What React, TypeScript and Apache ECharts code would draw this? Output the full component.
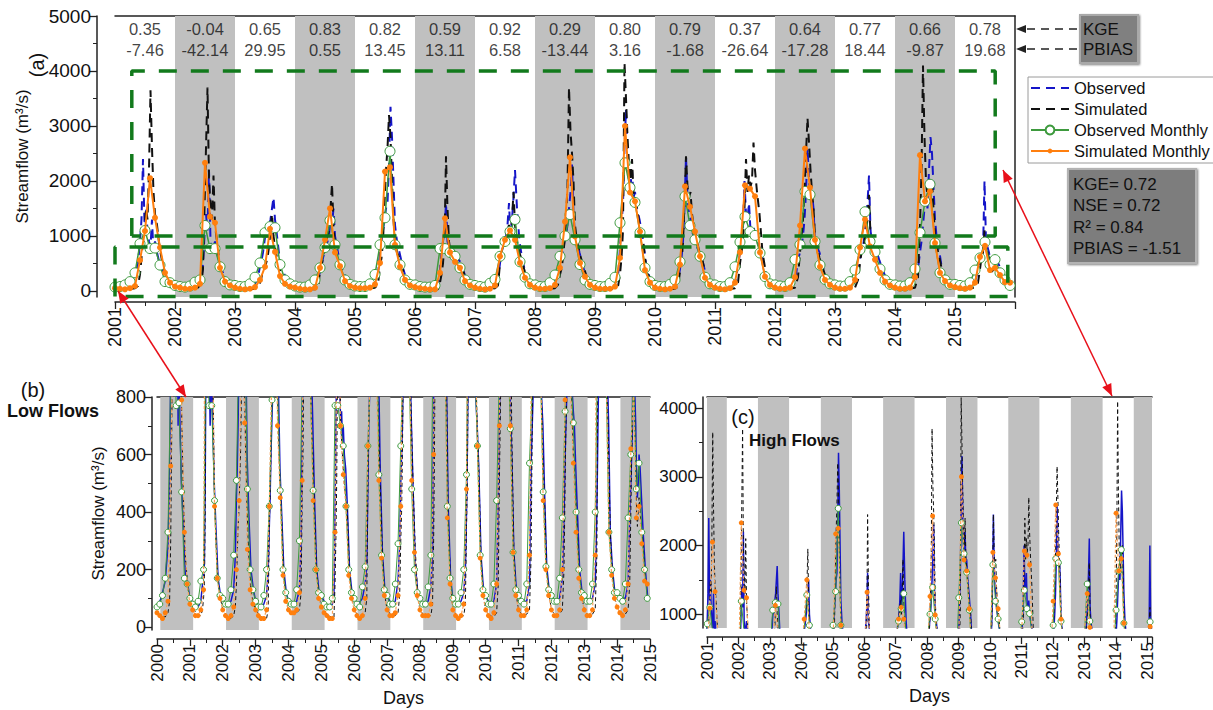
import React, { useEffect, useRef } from "react";
import * as echarts from "echarts";

const FONT = '"Liberation Sans", Arial, Helvetica, sans-serif';

const YEARS = [2001, 2002, 2003, 2004, 2005, 2006, 2007, 2008, 2009, 2010, 2011, 2012, 2013, 2014, 2015];
const KGE = [0.35, -0.04, 0.65, 0.83, 0.82, 0.59, 0.92, 0.29, 0.8, 0.79, 0.37, 0.64, 0.77, 0.66, 0.78];
const PBIAS = [-7.46, -42.14, 29.95, 0.55, 13.45, 13.11, 6.58, -13.44, 3.16, -1.68, -26.64, -17.28, 18.44, -9.87, 19.68];
const STATS = ["KGE= 0.72", "NSE = 0.72", "R² = 0.84", "PBIAS = -1.51"];
const LEGEND_NAMES = ["Observed", "Simulated", "Observed Monthly", "Simulated Monthly"];

// monthly means (m3/s), one row per year, Jan..Dec (plotted at month start)
const OBS_MONTHLY = [
  [70, 80, 110, 170, 330, 860, 1100, 770, 780, 470, 170, 150],
  [100, 80, 70, 90, 160, 200, 1190, 770, 770, 440, 170, 110],
  [100, 80, 80, 130, 250, 510, 1060, 1170, 1150, 480, 200, 130],
  [90, 70, 70, 110, 200, 420, 790, 1280, 840, 475, 200, 120],
  [90, 80, 80, 130, 300, 840, 1330, 2540, 840, 475, 200, 120],
  [110, 80, 70, 70, 100, 770, 770, 700, 630, 420, 200, 120],
  [100, 80, 70, 140, 210, 630, 900, 1080, 1300, 530, 250, 130],
  [110, 80, 80, 150, 290, 630, 1000, 1390, 930, 480, 200, 120],
  [100, 80, 80, 140, 250, 1240, 2330, 1880, 1610, 1060, 420, 170],
  [100, 80, 80, 120, 200, 530, 1720, 1190, 930, 630, 250, 130],
  [110, 80, 80, 150, 440, 890, 1350, 1080, 1010, 690, 260, 130],
  [110, 90, 80, 150, 570, 840, 1810, 1750, 900, 470, 210, 130],
  [110, 90, 90, 170, 380, 750, 1440, 900, 710, 400, 200, 120],
  [110, 90, 90, 150, 400, 1060, 1630, 1940, 870, 330, 200, 120],
  [120, 100, 90, 150, 380, 600, 890, 480, 570, 330, 200, 100],
];
const SIM_MONTHLY = [
  [50, 40, 30, 50, 90, 560, 1090, 2050, 1330, 790, 330, 150],
  [80, 60, 40, 40, 60, 130, 2330, 1350, 1240, 420, 170, 100],
  [60, 40, 30, 40, 70, 200, 440, 1130, 710, 270, 130, 80],
  [60, 40, 30, 30, 60, 420, 930, 1500, 700, 450, 180, 90],
  [60, 50, 50, 60, 120, 510, 2170, 2250, 840, 440, 200, 100],
  [70, 50, 40, 30, 30, 330, 1320, 700, 530, 420, 180, 100],
  [60, 40, 30, 40, 100, 630, 930, 1100, 930, 510, 240, 110],
  [60, 40, 40, 50, 110, 420, 1260, 2430, 990, 510, 260, 110],
  [60, 40, 40, 40, 80, 600, 3000, 1790, 1630, 1080, 380, 150],
  [60, 40, 30, 40, 80, 480, 1900, 1530, 1080, 630, 240, 110],
  [60, 40, 30, 50, 150, 700, 1920, 1860, 1720, 700, 260, 110],
  [60, 40, 40, 60, 250, 1190, 2590, 1880, 930, 440, 200, 110],
  [60, 40, 40, 60, 200, 790, 1300, 810, 570, 330, 170, 100],
  [60, 40, 40, 60, 250, 2470, 1630, 1810, 870, 330, 180, 100],
  [70, 50, 40, 60, 150, 620, 820, 380, 420, 290, 160, 150],
];

// sampled daily flows: month offsets within each year, and one row of values per year
const DAILY_MONTHS = [0, 1.5, 3, 4, 4.6, 5.0, 5.3, 5.6, 5.9, 6.2, 6.5, 6.8, 7.1, 7.4, 7.7, 8.0, 8.4, 8.9, 9.5, 10.3, 11.2];
const OBS_DAILY = [
  [70, 100, 160, 280, 500, 900, 1300, 2400, 1200, 1500, 1100, 900, 800, 1300, 700, 900, 700, 500, 380, 190, 150],
  [100, 80, 70, 90, 150, 180, 220, 500, 1000, 1400, 1100, 2200, 900, 700, 800, 900, 700, 500, 350, 170, 110],
  [100, 80, 90, 130, 250, 450, 550, 700, 900, 1100, 1000, 1200, 1300, 1500, 1700, 1300, 1000, 600, 400, 200, 130],
  [90, 70, 80, 110, 200, 350, 450, 600, 700, 800, 900, 1000, 1300, 1200, 1500, 1000, 800, 550, 400, 200, 120],
  [90, 80, 90, 130, 300, 700, 900, 1100, 1300, 1500, 1600, 2300, 3350, 2800, 2000, 1200, 900, 700, 450, 200, 120],
  [110, 80, 70, 80, 100, 400, 700, 900, 1100, 1600, 900, 800, 700, 750, 650, 700, 600, 550, 420, 200, 120],
  [100, 80, 100, 150, 210, 500, 700, 800, 900, 1000, 1200, 1600, 1000, 1300, 1700, 2200, 1500, 900, 550, 260, 130],
  [110, 80, 90, 160, 290, 500, 600, 700, 900, 1000, 1200, 1500, 1800, 2300, 1400, 1000, 900, 700, 480, 220, 120],
  [100, 80, 90, 140, 250, 800, 1200, 1600, 2600, 3300, 2400, 2000, 1900, 2200, 1700, 1800, 1500, 1300, 1000, 430, 170],
  [100, 80, 90, 120, 200, 400, 600, 900, 1500, 2450, 1700, 1400, 1300, 1100, 1000, 900, 800, 700, 550, 250, 130],
  [110, 80, 90, 150, 440, 700, 900, 1200, 2000, 1400, 1300, 1600, 1100, 1000, 1200, 1000, 900, 800, 600, 260, 130],
  [110, 90, 90, 150, 570, 700, 800, 1000, 1300, 1800, 2600, 2000, 1700, 1800, 1500, 900, 800, 700, 470, 210, 130],
  [110, 90, 100, 170, 380, 600, 700, 800, 1000, 1300, 1600, 2100, 1100, 900, 800, 750, 700, 550, 400, 200, 120],
  [110, 90, 100, 150, 400, 700, 900, 1200, 1500, 1700, 1500, 2200, 2800, 2500, 1900, 1300, 900, 700, 330, 200, 120],
  [120, 100, 100, 150, 380, 500, 600, 700, 2000, 900, 800, 700, 500, 450, 500, 600, 550, 450, 330, 200, 100],
];
const SIM_DAILY = [
  [50, 40, 35, 50, 90, 300, 600, 900, 1100, 1500, 1300, 2200, 3650, 2600, 1800, 1400, 1200, 800, 500, 250, 150],
  [80, 60, 40, 40, 60, 100, 150, 400, 1500, 2600, 3700, 2000, 1600, 1300, 2100, 1200, 900, 500, 300, 160, 100],
  [60, 40, 30, 40, 70, 150, 250, 350, 400, 500, 600, 800, 1100, 1400, 1000, 800, 600, 400, 250, 130, 80],
  [60, 40, 30, 30, 60, 350, 450, 600, 800, 900, 1000, 1100, 1500, 1950, 1200, 800, 650, 500, 380, 180, 90],
  [60, 50, 50, 60, 120, 450, 600, 900, 1600, 2200, 2600, 3200, 2800, 2000, 1300, 900, 700, 600, 400, 200, 100],
  [70, 50, 40, 30, 30, 150, 300, 500, 900, 2450, 1500, 900, 700, 650, 600, 550, 500, 450, 400, 190, 100],
  [60, 40, 35, 50, 100, 500, 700, 800, 900, 1000, 1100, 1200, 1000, 1300, 1800, 1200, 900, 700, 500, 250, 110],
  [60, 40, 40, 50, 110, 300, 400, 600, 900, 1300, 1900, 3700, 2900, 2500, 2000, 1200, 900, 700, 500, 270, 110],
  [60, 40, 40, 40, 80, 300, 600, 1100, 4150, 3500, 2800, 2300, 2000, 2400, 1800, 1700, 1500, 1200, 1000, 380, 150],
  [60, 40, 35, 40, 80, 350, 500, 900, 1600, 2450, 1900, 1700, 1800, 1400, 1200, 1100, 900, 700, 550, 240, 110],
  [60, 40, 35, 50, 150, 500, 700, 900, 1500, 2400, 1800, 2100, 1900, 2000, 2700, 2200, 1800, 1400, 700, 260, 110],
  [60, 40, 45, 60, 250, 700, 1000, 1300, 1800, 2500, 3150, 2700, 2200, 1800, 1500, 1000, 800, 600, 440, 200, 110],
  [60, 40, 45, 60, 200, 500, 700, 800, 900, 1100, 1300, 1750, 1000, 800, 700, 600, 550, 450, 330, 170, 100],
  [60, 40, 45, 60, 250, 1200, 2200, 4100, 2800, 2000, 1700, 1600, 1900, 2000, 1500, 1000, 800, 600, 330, 180, 100],
  [70, 50, 45, 60, 150, 400, 600, 700, 1100, 800, 700, 600, 400, 350, 400, 450, 400, 350, 290, 160, 150],
];

// shaded year bands (in each panel's own axis units)
const BANDS_A = [[2002, 2003], [2004, 2005], [2006, 2007], [2008, 2009], [2010, 2011], [2012, 2013], [2014, 2015]];
const BANDS_B = [[2000.1, 2001.1], [2002.1, 2003.1], [2004.1, 2005.1], [2006.1, 2007.1], [2008.1, 2009.1], [2010.1, 2011.1], [2012.1, 2013.1], [2014.1, 2015]];
const BANDS_C = [[2001, 2001.63], [2002.62, 2003.61], [2004.62, 2005.61], [2006.6, 2007.6], [2008.6, 2009.6], [2010.58, 2011.57], [2012.57, 2013.58], [2014.57, 2015.15]];
// zoom boxes in panel (a): high-flow window and low-flow window
const BOX_HIGH = { x0: 2001.28, x1: 2015.67, y0: 1000, y1: 4000 };
const BOX_LOW = { x0: 2001, x1: 2015.88, y0: -100, y1: 800 };
// axis label shift of the zoom panels relative to panel (a)
const SHIFT_B = -1;
const SHIFT_C = -0.41;

const C_OBS = "#1515c8";
const C_SIM = "#111111";
const C_OBSM = "#3d9a3d";
const C_SIMM = "#ff7f0e";
const C_GREEN = "#127a1c";
const C_BAND = "#c0c0c0";
const C_RED = "#e8101a";

function monthlyPoints(rows: number[][], shift: number) {
  return rows.flatMap((row, i) => row.map((v, m) => [YEARS[i] + m / 12 + shift, v]));
}
function dailyPoints(rows: number[][], shift: number) {
  return rows.flatMap((row, i) => row.map((v, k) => [YEARS[i] + DAILY_MONTHS[k] / 12 + shift, v]));
}
function boxPoints(b: { x0: number; x1: number; y0: number; y1: number }) {
  return [[b.x0, b.y0], [b.x0, b.y1], [b.x1, b.y1], [b.x1, b.y0], [b.x0, b.y0]];
}
function range(a: number, b: number, step: number) {
  const out: number[] = [];
  for (let v = a; v <= b + 1e-9; v += step) out.push(v);
  return out;
}

function arrowHead(tx: number, ty: number, fx: number, fy: number, color: string, len = 11, half = 4.5) {
  const dx = tx - fx, dy = ty - fy;
  const d = Math.hypot(dx, dy);
  const ux = dx / d, uy = dy / d;
  const bx = tx - ux * len, by = ty - uy * len;
  return {
    type: "polygon",
    z: 100,
    shape: { points: [[tx, ty], [bx - uy * half, by + ux * half], [bx + uy * half, by - ux * half]] },
    style: { fill: color },
  };
}

function bandSeries(xi: number, yi: number, bands: number[][], y0: number, y1: number) {
  return {
    type: "line",
    xAxisIndex: xi,
    yAxisIndex: yi,
    data: [[bands[0][0], y0]],
    symbol: "none",
    lineStyle: { opacity: 0 },
    silent: true,
    markArea: {
      silent: true,
      itemStyle: { color: C_BAND },
      data: bands.map(([a, b]) => [{ xAxis: a, yAxis: y0 }, { xAxis: b, yAxis: y1 }]),
    },
  };
}

function zoomPanelSeries(xi: number, yi: number, shift: number) {
  return [
    {
      name: "Observed", type: "line", xAxisIndex: xi, yAxisIndex: yi, data: dailyPoints(OBS_DAILY, shift),
      symbol: "none", lineStyle: { color: C_OBS, width: 1.5 }, itemStyle: { color: C_OBS }, z: 3,
    },
    {
      name: "Simulated", type: "line", xAxisIndex: xi, yAxisIndex: yi, data: dailyPoints(SIM_DAILY, shift),
      symbol: "none", lineStyle: { color: C_SIM, width: 1, type: [4, 3] }, itemStyle: { color: C_SIM }, z: 3,
    },
    {
      name: "Observed Monthly", type: "line", xAxisIndex: xi, yAxisIndex: yi, data: monthlyPoints(OBS_MONTHLY, shift),
      symbol: "circle", symbolSize: 6, showAllSymbol: true,
      lineStyle: { color: C_OBSM, width: 1 }, itemStyle: { color: "#ffffff", borderColor: C_OBSM, borderWidth: 1 }, z: 4,
    },
    {
      name: "Simulated Monthly", type: "line", xAxisIndex: xi, yAxisIndex: yi, data: monthlyPoints(SIM_MONTHLY, shift),
      symbol: "circle", symbolSize: 5, showAllSymbol: true,
      lineStyle: { color: "#f6a25a", width: 1.2, type: [3, 2] }, itemStyle: { color: C_SIMM, borderWidth: 0 }, z: 5,
    },
  ];
}

function xAxisDef(grid: number, min: number, max: number, offset: number, fontSize: number, hideAt: number | null, name?: string) {
  return {
    type: "value", gridIndex: grid, min, max, interval: 1, offset,
    name: name || "", nameLocation: "middle", nameGap: 50,
    nameTextStyle: { fontSize: 18, color: "#111", fontFamily: FONT },
    splitLine: { show: false },
    axisLine: { show: true, onZero: false, lineStyle: { color: "#222", width: 1.5 } },
    axisTick: { show: true, length: 7, lineStyle: { color: "#222", width: 1.3 } },
    minorTick: { show: true, splitNumber: 2, length: 4, lineStyle: { color: "#222", width: 1 } },
    axisLabel: {
      rotate: 90, fontSize, margin: 5, color: "#111", fontFamily: FONT,
      formatter: (v: number) => (hideAt !== null && Math.abs(v - hideAt) < 1e-6 ? "" : String(Math.round(v))),
    },
  };
}
function borderXAxis(grid: number, min: number, max: number) {
  return {
    type: "value", gridIndex: grid, min, max, position: "top",
    splitLine: { show: false }, axisTick: { show: false }, axisLabel: { show: false },
    axisLine: { show: true, onZero: false, lineStyle: { color: "#222", width: 1.5 } },
  };
}
function yAxisDef(grid: number, min: number, max: number, offset: number, ticks: number[], fontSize: number, name?: string, nameGap?: number) {
  return {
    type: "value", gridIndex: grid, min, max, offset, position: "left",
    name: name || "", nameLocation: "middle", nameGap: nameGap || 50,
    nameTextStyle: { fontSize: 17, color: "#111", fontFamily: FONT },
    splitLine: { show: false },
    axisLine: { show: true, onZero: false, lineStyle: { color: "#222", width: 1.5 } },
    axisTick: { show: true, length: 7, customValues: ticks, lineStyle: { color: "#222", width: 1.3 } },
    axisLabel: { customValues: ticks, fontSize, margin: 6, color: "#111", fontFamily: FONT, formatter: (v: number) => String(v) },
  };
}
function minorYAxis(grid: number, min: number, max: number, offset: number, ticks: number[]) {
  return {
    type: "value", gridIndex: grid, min, max, offset, position: "left",
    splitLine: { show: false }, axisLabel: { show: false },
    axisLine: { show: false },
    axisTick: { show: true, length: 4, customValues: ticks, lineStyle: { color: "#222", width: 1 } },
  };
}

function legendDef(names: any[], top: number, itemHeight: number) {
  return {
    data: names,
    orient: "vertical",
    left: 1030, top,
    padding: 0,
    itemWidth: 38, itemHeight, itemGap: 1,
    textStyle: { fontSize: 16.5, color: "#111", fontFamily: FONT, lineHeight: 20 },
    selectedMode: false,
  };
}

export default function App() {
  const ref = useRef<HTMLDivElement>(null);
  useEffect(() => {
    document.body.style.margin = "0";
    if (!ref.current) return;
    const chart = echarts.init(ref.current, null, { renderer: "svg" });

    const series: any[] = [
      // panel (a)
      bandSeries(0, 0, BANDS_A, -110, 5000),
      {
        name: "Observed", type: "line", xAxisIndex: 0, yAxisIndex: 0, data: dailyPoints(OBS_DAILY, 0),
        symbol: "none", lineStyle: { color: C_OBS, width: 2, type: [9, 6] }, itemStyle: { color: C_OBS }, z: 3,
      },
      {
        name: "Simulated", type: "line", xAxisIndex: 0, yAxisIndex: 0, data: dailyPoints(SIM_DAILY, 0),
        symbol: "none", lineStyle: { color: C_SIM, width: 2, type: [9, 6] }, itemStyle: { color: C_SIM }, z: 3,
      },
      {
        name: "Observed Monthly", type: "line", xAxisIndex: 0, yAxisIndex: 0, data: monthlyPoints(OBS_MONTHLY, 0),
        symbol: "circle", symbolSize: 10, showAllSymbol: true,
        lineStyle: { color: C_OBSM, width: 1.5 }, itemStyle: { color: "#ffffff", borderColor: C_OBSM, borderWidth: 1 }, z: 4,
      },
      {
        name: "Simulated Monthly", type: "line", xAxisIndex: 0, yAxisIndex: 0, data: monthlyPoints(SIM_MONTHLY, 0),
        symbol: "circle", symbolSize: 6, showAllSymbol: true,
        lineStyle: { color: C_SIMM, width: 2 }, itemStyle: { color: C_SIMM, borderWidth: 0 }, z: 5,
      },
      {
        type: "line", xAxisIndex: 0, yAxisIndex: 0, data: boxPoints(BOX_HIGH), symbol: "none", silent: true, clip: false,
        lineStyle: { color: C_GREEN, width: 3.5, type: [18, 14] }, z: 6,
      },
      {
        type: "line", xAxisIndex: 0, yAxisIndex: 0, data: boxPoints(BOX_LOW), symbol: "none", silent: true, clip: false,
        lineStyle: { color: C_GREEN, width: 3.5, type: [18, 14] }, z: 6,
      },
      {
        type: "scatter", xAxisIndex: 0, yAxisIndex: 0, silent: true, symbolSize: 1,
        itemStyle: { color: "transparent" }, z: 7,
        data: YEARS.map((y) => [y + 0.5, 4570]),
        label: {
          show: true, position: "inside", color: "#111", fontSize: 16.5, lineHeight: 21, fontFamily: FONT,
          formatter: (p: any) => `${KGE[p.dataIndex].toFixed(2)}\n${PBIAS[p.dataIndex].toFixed(2)}`,
        },
      },
      // panel (b)
      bandSeries(3, 3, BANDS_B, -10, 800),
      ...zoomPanelSeries(3, 3, SHIFT_B),
      // panel (c)
      bandSeries(5, 6, BANDS_C, 800, 4160),
      ...zoomPanelSeries(5, 6, SHIFT_C),
    ];

    const graphics: any[] = [
      { type: "text", z: 100, x: 37, y: 65, rotation: Math.PI / 2, style: { text: "(a)", fontSize: 20, fontFamily: FONT, fill: "#111", align: "center", verticalAlign: "middle" } },
      { type: "text", z: 100, x: 33, y: 390, style: { text: "(b)", fontSize: 20, fontFamily: FONT, fill: "#111", align: "center", verticalAlign: "middle" } },
      { type: "text", z: 100, x: 7, y: 411, style: { text: "Low Flows", fontSize: 18, fontWeight: "bold", fontFamily: FONT, fill: "#111", align: "left", verticalAlign: "middle" } },
      { type: "text", z: 100, x: 743, y: 417, style: { text: "(c)", fontSize: 20, fontFamily: FONT, fill: "#111", align: "center", verticalAlign: "middle" } },
      { type: "text", z: 100, x: 749, y: 440, style: { text: "High Flows", fontSize: 17, fontWeight: "bold", fontFamily: FONT, fill: "#111", align: "left", verticalAlign: "middle" } },
      // legend frame
      { type: "rect", z: 1, shape: { x: 1028, y: 77, width: 200, height: 86 }, style: { fill: "#ffffff", stroke: "#9a9a9a", lineWidth: 1 } },
      // KGE / PBIAS key box
      { type: "rect", z: 100, shape: { x: 1080, y: 15, width: 58, height: 48 }, style: { fill: "#808080", stroke: "#a9a9a9", lineWidth: 2, shadowBlur: 2, shadowColor: "rgba(0,0,0,0.5)", shadowOffsetX: 1, shadowOffsetY: 1 } },
      { type: "text", z: 101, x: 1083, y: 29, style: { text: "KGE", fontSize: 17, fontFamily: FONT, fill: "#111", align: "left", verticalAlign: "middle" } },
      { type: "text", z: 101, x: 1083, y: 49, style: { text: "PBIAS", fontSize: 17, fontFamily: FONT, fill: "#111", align: "left", verticalAlign: "middle" } },
      { type: "line", z: 100, shape: { x1: 1077, y1: 29, x2: 1026, y2: 29 }, style: { stroke: "#222", lineWidth: 1.5, lineDash: [8, 6] } },
      { type: "line", z: 100, shape: { x1: 1077, y1: 49, x2: 1026, y2: 49 }, style: { stroke: "#222", lineWidth: 1.5, lineDash: [8, 6] } },
      arrowHead(1016, 29, 1077, 29, "#222", 10, 4),
      arrowHead(1016, 49, 1077, 49, "#222", 10, 4),
      // statistics box
      { type: "rect", z: 100, shape: { x: 1068, y: 169, width: 128, height: 94 }, style: { fill: "#7d7d7d", stroke: "#b3b3b3", lineWidth: 2, shadowBlur: 2, shadowColor: "rgba(0,0,0,0.5)", shadowOffsetX: 1, shadowOffsetY: 1 } },
      ...STATS.map((t, i) => ({ type: "text", z: 101, x: 1073, y: 184 + i * 21.5, style: { text: t, fontSize: 17, fontFamily: FONT, fill: "#111", align: "left", verticalAlign: "middle" } })),
      // red zoom arrows
      { type: "line", z: 100, shape: { x1: 118, y1: 291, x2: 186, y2: 397 }, style: { stroke: C_RED, lineWidth: 1.5 } },
      arrowHead(118, 291, 186, 397, C_RED, 12, 5),
      arrowHead(186, 397, 118, 291, C_RED, 12, 5),
      { type: "line", z: 100, shape: { x1: 1003, y1: 170, x2: 1112, y2: 396 }, style: { stroke: C_RED, lineWidth: 1.5 } },
      arrowHead(1003, 170, 1112, 396, C_RED, 12, 5),
      arrowHead(1112, 396, 1003, 170, C_RED, 12, 5),
    ];

    const option: any = {
      animation: false,
      textStyle: { fontFamily: FONT },
      grid: [
        { left: 115, top: 16, width: 900, height: 281 },
        { left: 157, top: 397, width: 493, height: 233 },
        { left: 707, top: 397, width: 445, height: 231 },
      ],
      legend: [
        legendDef([
          { name: LEGEND_NAMES[0], itemStyle: { opacity: 0 } },
          { name: LEGEND_NAMES[1], itemStyle: { opacity: 0 } },
        ], 78, 14),
        legendDef([{ name: LEGEND_NAMES[2] }], 120, 11),
        legendDef([{ name: LEGEND_NAMES[3] }], 141, 6),
      ],
      xAxis: [
        xAxisDef(0, 2001, 2016, 5, 18, 2016),
        borderXAxis(0, 2001, 2016),
        xAxisDef(1, 2000, 2015, 9, 17, null, "Days"),
        borderXAxis(1, 2000, 2015),
        xAxisDef(2, 2001, 2015.15, 9, 17, null, "Days"),
        borderXAxis(2, 2001, 2015.15),
      ],
      yAxis: [
        yAxisDef(0, -110, 5000, 18, range(0, 5000, 1000), 19, "Streamflow (m³/s)", 66),
        minorYAxis(0, -110, 5000, 18, range(500, 4500, 1000)),
        {
          type: "value", gridIndex: 0, min: -110, max: 5000, position: "right",
          splitLine: { show: false }, axisTick: { show: false }, axisLabel: { show: false },
          axisLine: { show: true, onZero: false, lineStyle: { color: "#222", width: 1.5 } },
        },
        yAxisDef(1, -10, 800, 5, range(0, 800, 200), 18, "Streamflow (m³/s)", 45),
        minorYAxis(1, -10, 800, 5, range(100, 700, 200)),
        minorYAxis(2, 800, 4160, 4, range(1500, 3500, 1000)),
        yAxisDef(2, 800, 4160, 4, range(1000, 4000, 1000), 17),
      ],
      series,
      graphic: graphics,
    };
    chart.setOption(option);
    return () => chart.dispose();
  }, []);
  return <div ref={ref} style={{ width: 1213, height: 710 }} />;
}
